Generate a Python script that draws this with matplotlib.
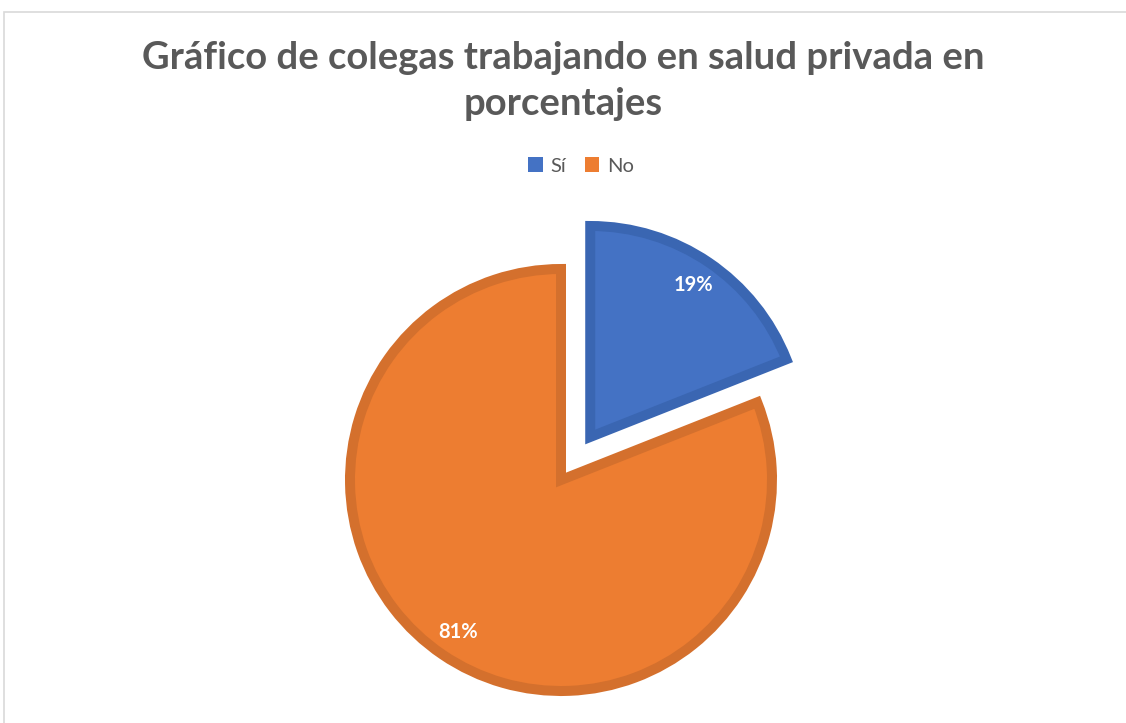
import matplotlib.pyplot as plt
from matplotlib.patches import Patch, Rectangle

categories = ['Sí', 'No']
values = [19, 81]
fill_colors = ['#4472C4', '#ED7D31']
edge_colors = ['#3A66B2', '#D4702D']
title = 'Gráfico de colegas trabajando en salud privada en\nporcentajes'

W, H = 1126, 723
fig = plt.figure(figsize=(W / 100, H / 100), dpi=100)
ax = fig.add_axes([0, 0, 1, 1])
ax.set_xlim(0, W)
ax.set_ylim(0, H)
ax.set_aspect('equal')
ax.axis('off')

# chart frame (light gray, cut off at right/bottom as in the screenshot)
fig.patches.append(Rectangle((4 / W, -0.1), 1.2, 1.1 - 12 / H, transform=fig.transFigure,
                             fill=False, edgecolor='#D9D9D9', lw=1.2))

# explode is in data units (pixels here)
wedges, texts, autotexts = ax.pie(
    values, colors=fill_colors, startangle=90, counterclock=False,
    explode=[52, 0], center=(561, H - 480), radius=211,
    autopct='%1.0f%%', pctdistance=0.87,
    wedgeprops=dict(linewidth=7.2, joinstyle='miter'),
    textprops=dict(color='white', fontsize=14.5, fontweight='bold', family='Lato'))
for w, ec in zip(wedges, edge_colors):
    w.set_edgecolor(ec)
ax.set_xlim(0, W)
ax.set_ylim(0, H)

fig.text(0.5, 1 - 81 / H, title, ha='center', va='center', fontsize=27.5,
         fontweight='bold', color='#595959', family='Lato', linespacing=1.42)

handles = [Patch(facecolor=c, edgecolor='none') for c in fill_colors]
fig.legend(handles, categories, loc='center', bbox_to_anchor=(581 / W, 1 - 166 / H), ncol=2,
           frameon=False, handlelength=0.7, handleheight=0.7,
           handletextpad=0.4, columnspacing=0.9,
           prop=dict(family='Lato', size=14.5), labelcolor='#595959')

fig.savefig('out.png', dpi=100)
